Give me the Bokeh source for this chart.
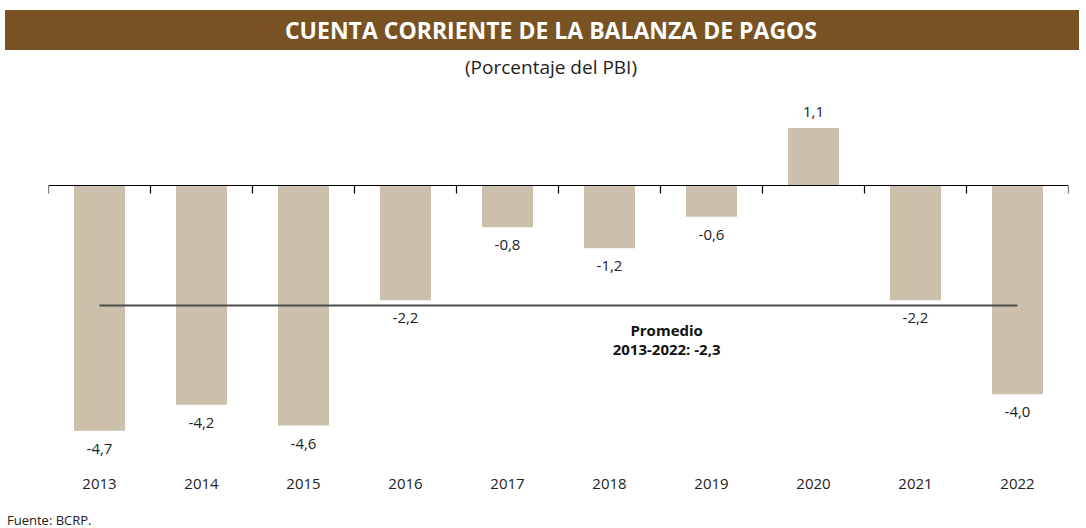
from bokeh.plotting import figure
from bokeh.models import ColumnDataSource, LinearAxis, FixedTicker, Label, Div, Range1d
from bokeh.layouts import column
from bokeh.embed import file_html
from bokeh.resources import INLINE
from bokeh.core.properties import value

# ---- data ----
years = ["2013", "2014", "2015", "2016", "2017", "2018", "2019", "2020", "2021", "2022"]
values = [-4.7, -4.2, -4.6, -2.2, -0.8, -1.2, -0.6, 1.1, -2.2, -4.0]
average = -2.3
title_text = "CUENTA CORRIENTE DE LA BALANZA DE PAGOS"
subtitle_text = "(Porcentaje del PBI)"
source_text = "Fuente: BCRP."
avg_label_1 = "Promedio"
avg_label_2 = "2013-2022: -2,3"

# ---- styles ----
FONT = "Open Sans"
BAR_COLOR = "#CCBFAC"
HEAD_COLOR = "#785223"
TEXT_COLOR = "#222222"

idx = list(range(len(years)))
labels = [f"{v:.1f}".replace(".", ",") for v in values]
yoff = [-16 if v >= 0 else 18 for v in values]
src = ColumnDataSource(dict(x=idx, top=values, label=labels, yoff=yoff))

header = Div(
    width=1070, height=80,
    text=(
        f'<div style="margin:5px 0 0 0;height:40px;width:1074px;background:{HEAD_COLOR};color:#ffffff;'
        f'font-family:\'{FONT}\';font-weight:bold;font-size:23px;line-height:40px;text-align:center;'
        f'padding-left:18px;box-sizing:border-box;">{title_text}</div>'
        f'<div style="margin:5px 0 0 0;height:24px;width:1070px;color:{TEXT_COLOR};'
        f'font-family:\'{FONT}\';font-size:19px;line-height:24px;text-align:center;'
        f'padding-left:22px;box-sizing:border-box;">{subtitle_text}</div>'
    ),
)

p = figure(
    width=1070, height=408,
    x_range=Range1d(-0.5, len(years) - 0.5),
    y_range=Range1d(-5.498, 1.820),
    output_backend="svg", toolbar_location=None, y_axis_location=None,
    min_border_left=48, min_border_right=2, min_border_top=0, min_border_bottom=26,
)
p.outline_line_color = None
p.xgrid.visible = False
p.ygrid.visible = False
p.background_fill_color = "white"
p.border_fill_color = "white"

# year axis (bottom)
xa = p.xaxis[0]
xa.ticker = FixedTicker(ticks=idx)
xa.major_label_overrides = {i: y for i, y in zip(idx, years)}
xa.axis_line_color = None
xa.major_tick_line_color = None
xa.minor_tick_line_color = None
xa.major_tick_out = 0
xa.major_tick_in = 0
xa.minor_tick_out = 0
xa.major_label_standoff = 6
xa.major_label_text_font = FONT
xa.major_label_text_font_size = "15px"
xa.major_label_text_color = TEXT_COLOR

# zero axis with boundary ticks
zero_axis = LinearAxis(
    fixed_location=0,
    ticker=FixedTicker(ticks=[i - 0.5 for i in range(len(years) + 1)]),
    axis_line_color="black", axis_line_width=1.2,
    major_tick_line_color="black", major_tick_line_width=1.2,
    major_tick_out=8, major_tick_in=0,
    minor_tick_line_color=None,
    major_label_text_color=None, major_label_text_font_size="1px",
)
p.add_layout(zero_axis, "below")

p.vbar(x="x", top="top", bottom=0, width=0.5, source=src,
       fill_color=BAR_COLOR, line_color=None)

p.text(x="x", y="top", text="label", source=src, y_offset="yoff",
       text_align="center", text_baseline="middle",
       text_font=value(FONT), text_font_size="15px", text_color=TEXT_COLOR)

p.segment(x0=[idx[0]], x1=[idx[-1]], y0=[average], y1=[average],
          line_color="#4d4d4d", line_width=2)

for txt, off in ((avg_label_1, -24), (avg_label_2, -43)):
    p.add_layout(Label(x=5.56, y=average, text=txt, y_offset=off,
                       text_align="center", text_baseline="middle",
                       text_font=FONT, text_font_size="15px", text_font_style="bold",
                       text_color="#111111"))

footer = Div(
    width=1070, height=24,
    text=(f'<div style="padding-top:10px;padding-left:2px;font-family:\'{FONT}\';font-size:13px;line-height:14px;'
          f'color:{TEXT_COLOR};">{source_text}</div>'),
)

layout = column(header, p, footer, spacing=0)
open("out.html", "w").write(file_html(layout, INLINE))
